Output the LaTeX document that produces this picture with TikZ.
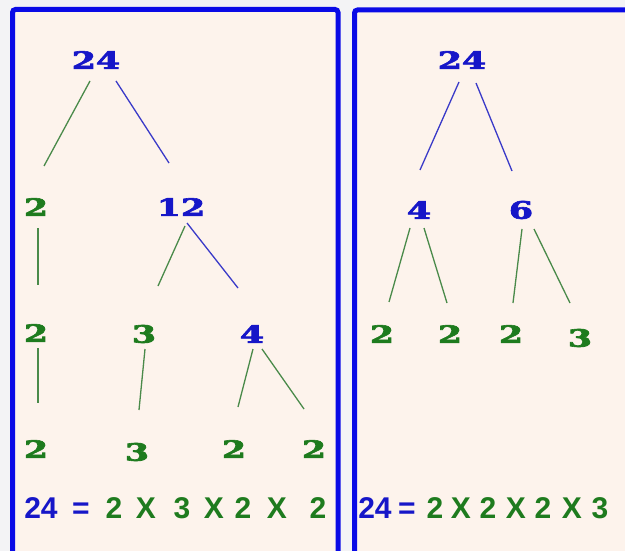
\documentclass[tikz,border=0pt]{standalone}
\usepackage{fontspec}
\usepackage{graphicx}
\usetikzlibrary{calc}
\newfontfamily\eqfont{Liberation Sans}
\newfontfamily\numfont{DejaVu Serif}[UprightFont={DejaVu Serif Bold}, FakeBold=2.5]
\newcommand{\wide}[1]{\scalebox{1.45}[1]{#1}}
\definecolor{bg}{HTML}{F3F3F5}
\definecolor{boxfill}{HTML}{FDF3EC}
\definecolor{boxblue}{HTML}{0A0AE6}
\definecolor{tblue}{HTML}{1616C8}
\definecolor{tgreen}{HTML}{1E7B1E}
\definecolor{lgreen}{HTML}{4A8A4A}
\definecolor{lblue}{HTML}{3A3AC8}
\tikzset{
  num/.style={inner sep=0pt, font=\numfont\fontsize{24}{28}\selectfont},
  panel/.style={line width=5pt, draw=boxblue, fill=boxfill, rounded corners=3pt},
  gnum/.style={num, text=tgreen},
  bnum/.style={num, text=tblue},
  eq/.style={inner sep=0pt, anchor=base, font=\eqfont\bfseries\fontsize{30}{34}\selectfont},
  geq/.style={eq, text=tgreen},
  beq/.style={eq, text=tblue},
  gline/.style={draw=lgreen, line width=1.3pt},
  bline/.style={draw=lblue, line width=1.3pt}
}
\begin{document}
\begin{tikzpicture}[x=1pt,y=-1pt]
\useasboundingbox (0,0) rectangle (625,551);
\clip (0,0) rectangle (625,551);
\fill[bg] (0,0) rectangle (625,551);
\draw[panel] (12.5,9.5) rectangle (338,570);
\draw[panel] (354.5,10) rectangle (660,570);

% left tree
\node[bnum] (A24) at (96,60) {\wide{24}};
\node[gnum] (B2) at (36,207) {\wide{2}};
\node[bnum] (B12) at (181,207) {\wide{12}};
\node[gnum] (C2) at (36,333) {\wide{2}};
\node[gnum] (C3) at (144,334) {\wide{3}};
\node[bnum] (C4) at (252,334) {\wide{4}};
\node[gnum] (D2a) at (36,449) {\wide{2}};
\node[gnum] (D3) at (137,452) {\wide{3}};
\node[gnum] (D2b) at (234,449) {\wide{2}};
\node[gnum] (D2c) at (314,449) {\wide{2}};

\draw[gline] ($(A24)+(-6,21)$) -- ($(B2)+(8,-41)$);
\draw[bline] ($(A24)+(20,21)$) -- ($(B12)+(-12,-44)$);
\draw[gline] ($(B2)+(2,21)$) -- ($(C2)+(2,-48)$);
\draw[gline] ($(B12)+(4,19)$) -- ($(C3)+(14,-48)$);
\draw[bline] ($(B12)+(6,16)$) -- ($(C4)+(-14,-46)$);
\draw[gline] ($(C2)+(2,15)$) -- ($(D2a)+(2,-46)$);
\draw[gline] ($(C3)+(1,15)$) -- ($(D3)+(2,-42)$);
\draw[gline] ($(C4)+(1,15)$) -- ($(D2b)+(4,-42)$);
\draw[gline] ($(C4)+(10,15)$) -- ($(D2c)+(-10,-40)$);

% right tree
\node[bnum] (R24) at (462,60) {\wide{24}};
\node[bnum] (R4) at (419,210) {\wide{4}};
\node[bnum] (R6) at (521,210) {\wide{6}};
\node[gnum] (E2a) at (382,334) {\wide{2}};
\node[gnum] (E2b) at (450,334) {\wide{2}};
\node[gnum] (E2c) at (511,334) {\wide{2}};
\node[gnum] (E3) at (580,338) {\wide{3}};

\draw[bline] ($(R24)+(-3,22)$) -- ($(R4)+(1,-40)$);
\draw[bline] ($(R24)+(14,23)$) -- ($(R6)+(-9,-39)$);
\draw[gline] ($(R4)+(-9,18)$) -- ($(E2a)+(7,-32)$);
\draw[gline] ($(R4)+(5,18)$) -- ($(E2b)+(-3,-31)$);
\draw[gline] ($(R6)+(1,19)$) -- ($(E2c)+(2,-31)$);
\draw[gline] ($(R6)+(13,19)$) -- ($(E3)+(-10,-35)$);

% left equation
\node[beq] (L24) at (41,518) {24};
\node[beq] (Leq) at (81,518) {=};
\node[geq] (L1) at (114,518) {2};
\node[geq] (Lx1) at (146,518) {X};
\node[geq] (L2) at (182,518) {3};
\node[geq] (Lx2) at (214,518) {X};
\node[geq] (L3) at (243,518) {2};
\node[geq] (Lx3) at (277,518) {X};
\node[geq] (L4) at (318,518) {2};

% right equation
\node[beq] (Q24) at (375,518) {24};
\node[beq] (Qeq) at (407,518) {=};
\node[geq] (Q1) at (435,518) {2};
\node[geq] (Qx1) at (461,518) {X};
\node[geq] (Q2) at (488,518) {2};
\node[geq] (Qx2) at (516,518) {X};
\node[geq] (Q3) at (543,518) {2};
\node[geq] (Qx3) at (572,518) {X};
\node[geq] (Q4) at (600,518) {3};
\end{tikzpicture}
\end{document}
